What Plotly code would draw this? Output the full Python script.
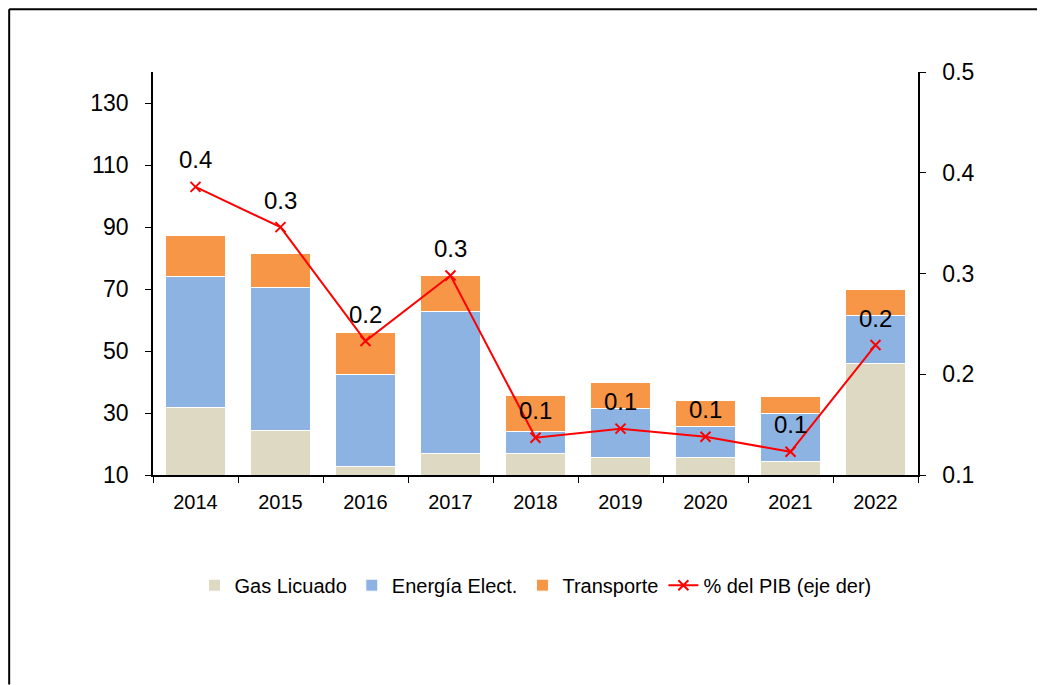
import plotly.graph_objects as go

# --- datos ---
years = ["2014", "2015", "2016", "2017", "2018", "2019", "2020", "2021", "2022"]
gas_licuado = [31.9, 24.5, 12.6, 16.8, 16.8, 15.8, 15.8, 14.5, 46.1]
energia_elect = [42.0, 46.1, 29.7, 46.1, 7.1, 15.5, 9.7, 15.2, 15.5]
transporte = [13.2, 11.0, 13.8, 11.6, 11.9, 8.4, 8.4, 5.5, 8.4]
pct_pib = [0.386, 0.346, 0.233, 0.298, 0.137, 0.146, 0.138, 0.123, 0.229]

FONT = "Liberation Sans, Arial, sans-serif"
RED = "#FF0000"

fig = go.Figure()

fig.add_trace(go.Bar(x=years, y=gas_licuado, name="Gas Licuado",
                     marker=dict(color="#DDD9C3", line=dict(color="white", width=1))))
fig.add_trace(go.Bar(x=years, y=energia_elect, name="Energía Elect.",
                     marker=dict(color="#8DB3E2", line=dict(color="white", width=1))))
fig.add_trace(go.Bar(x=years, y=transporte, name="Transporte",
                     marker=dict(color="#F79646", line=dict(color="white", width=1))))

fig.add_trace(go.Scatter(
    x=years, y=pct_pib, name="% del PIB (eje der)", yaxis="y2",
    mode="lines+markers",
    line=dict(color=RED, width=2),
    marker=dict(symbol="x-thin", size=10, line=dict(color=RED, width=2), color=RED),
))

# etiquetas de datos sobre la línea (x por índice de categoría: "2014" se leería como índice)
annotations = [
    dict(x=i, y=v, xref="x", yref="y2", text=f"{v:.1f}", showarrow=False,
         yshift=27, font=dict(size=24, color="black", family=FONT))
    for i, v in enumerate(pct_pib)
]

# marco del gráfico: bordes superior e izquierdo, hasta el límite de la imagen
frame = [
    dict(type="line", xref="paper", yref="paper", x0=-0.188, x1=1.166, y0=1.156, y1=1.156,
         line=dict(color="black", width=2)),
    dict(type="line", xref="paper", yref="paper", x0=-0.188, x1=-0.188, y0=-0.52, y1=1.156,
         line=dict(color="black", width=2)),
]

fig.update_layout(
    barmode="stack",
    bargap=0.3,
    width=1045, height=685,
    paper_bgcolor="white", plot_bgcolor="white",
    font=dict(family=FONT, color="black"),
    # el body de la página añade 8px de margen
    margin=dict(l=145, r=135, t=64, b=218),
    showlegend=True,
    legend=dict(orientation="h", x=0.5, xanchor="center", y=-0.225, yanchor="top",
                font=dict(size=20, family=FONT), traceorder="normal"),
    xaxis=dict(type="category", range=[-0.5, len(years) - 0.5],
               showline=True, linecolor="black", linewidth=1.5,
               ticks="outside", tickson="boundaries", ticklen=6, tickcolor="black",
               tickfont=dict(size=20), ticklabelstandoff=8, showgrid=False),
    yaxis=dict(range=[10, 140], tickvals=[10, 30, 50, 70, 90, 110, 130],
               showline=True, linecolor="black", linewidth=1.5,
               ticks="outside", ticklen=6, tickcolor="black",
               tickfont=dict(size=23), ticklabelstandoff=12,
               showgrid=False, zeroline=False),
    yaxis2=dict(range=[0.1, 0.5], tickvals=[0.1, 0.2, 0.3, 0.4, 0.5],
                overlaying="y", side="right",
                showline=True, linecolor="black", linewidth=1.5,
                ticks="outside", ticklen=6, tickcolor="black",
                tickfont=dict(size=23), ticklabelstandoff=12,
                showgrid=False, zeroline=False),
    annotations=annotations,
    shapes=frame,
)

fig.write_html("out.html")
